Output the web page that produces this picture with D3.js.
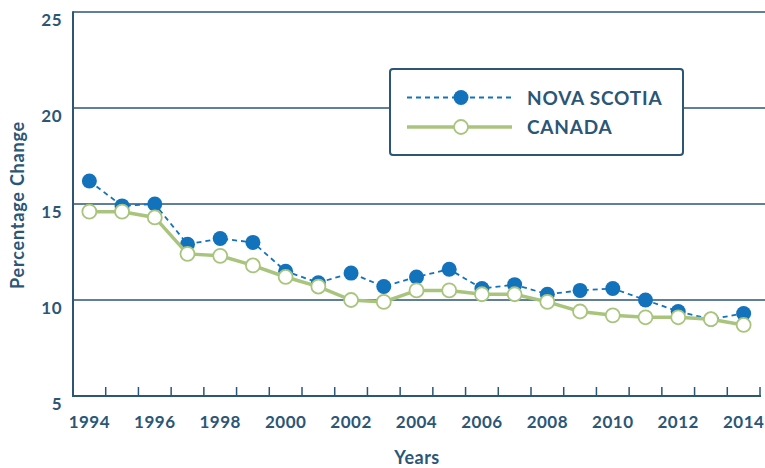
<!DOCTYPE html>
<html>
<head>
<meta charset="utf-8">
<script src="https://cdn.jsdelivr.net/npm/d3@7"></script>
<style>
  body { margin: 0; background: #fff; }
  text { font-family: Lato, "Open Sans", sans-serif; font-weight: 700; fill: #2b5676; }
</style>
</head>
<body>
<svg id="chart" width="765" height="468"></svg>
<script>
var years = d3.range(1994, 2015);
var novaScotia = [16.2, 14.9, 15.0, 12.9, 13.2, 13.0, 11.5, 10.9, 11.4, 10.7, 11.2,
                  11.6, 10.6, 10.8, 10.3, 10.5, 10.6, 10.0, 9.4, 9.0, 9.3];
var canada = [14.6, 14.6, 14.3, 12.4, 12.3, 11.8, 11.2, 10.7, 10.0, 9.9, 10.5,
              10.5, 10.3, 10.3, 9.9, 9.4, 9.2, 9.1, 9.1, 9.0, 8.7];
var yTicks = [5, 10, 15, 20, 25];
var xLabels = [1994, 1996, 1998, 2000, 2002, 2004, 2006, 2008, 2010, 2012, 2014];

var ink = "#2b5676", blue = "#1272bb", green = "#a9c57d";

var svg = d3.select("#chart"),
    plotLeft = 73, plotRight = 760, plotTop = 12, plotBottom = 396;

var x = d3.scaleBand().domain(years).range([plotLeft, plotRight]);
var y = d3.scaleLinear().domain([5, 25]).range([plotBottom, plotTop]);
var cx = function (d, i) { return x(years[i]) + x.bandwidth() / 2; };

// gridlines
svg.append("g").selectAll("line")
    .data(yTicks.filter(function (t) { return t > 5; }))
    .enter().append("line")
    .attr("x1", plotLeft).attr("x2", 765)
    .attr("y1", function (d) { return y(d); })
    .attr("y2", function (d) { return y(d); })
    .attr("stroke", ink).attr("stroke-width", 1.5);

// y labels
svg.append("g").selectAll("text")
    .data(yTicks)
    .enter().append("text")
    .attr("x", 62)
    .attr("y", function (d) { return y(d) + 8; })
    .attr("dy", "0.35em")
    .attr("text-anchor", "end")
    .attr("font-size", 17)
    .attr("letter-spacing", 0.5)
    .text(function (d) { return d; });

// axes lines
svg.append("line").attr("x1", plotLeft).attr("x2", plotLeft)
    .attr("y1", plotTop - 0.75).attr("y2", plotBottom + 1)
    .attr("stroke", ink).attr("stroke-width", 2);
svg.append("line").attr("x1", plotLeft).attr("x2", plotRight + 1)
    .attr("y1", plotBottom).attr("y2", plotBottom)
    .attr("stroke", ink).attr("stroke-width", 2);

// x ticks at band edges
svg.append("g").selectAll("line")
    .data(years)
    .enter().append("line")
    .attr("x1", function (d) { return x(d) + x.bandwidth(); })
    .attr("x2", function (d) { return x(d) + x.bandwidth(); })
    .attr("y1", plotBottom - 9).attr("y2", plotBottom)
    .attr("stroke", ink).attr("stroke-width", 1.5);

svg.append("g").selectAll("text")
    .data(xLabels)
    .enter().append("text")
    .attr("x", function (d) { return x(d) + x.bandwidth() / 2; })
    .attr("y", 422)
    .attr("dy", "0.35em")
    .attr("text-anchor", "middle")
    .attr("font-size", 17)
    .attr("letter-spacing", 0.5)
    .text(function (d) { return d; });

// axis titles
svg.append("text").attr("x", 417).attr("y", 458).attr("dy", "0.35em")
    .attr("text-anchor", "middle").attr("font-size", 18).attr("letter-spacing", 0.5)
    .text("Years");
svg.append("text")
    .attr("transform", "translate(18,205) rotate(-90)")
    .attr("dy", "0.35em").attr("text-anchor", "middle").attr("font-size", 18)
    .attr("letter-spacing", 0.8)
    .text("Percentage Change");

// series
var line = d3.line().x(cx).y(function (d) { return y(d); });

svg.append("path").datum(novaScotia).attr("d", line)
    .attr("fill", "none").attr("stroke", blue).attr("stroke-width", 1.8)
    .attr("stroke-dasharray", "5,4");
svg.append("g").selectAll("circle")
    .data(novaScotia).enter().append("circle")
    .attr("cx", cx).attr("cy", function (d) { return y(d); })
    .attr("r", 7.5).attr("fill", blue);

svg.append("path").datum(canada).attr("d", line)
    .attr("fill", "none").attr("stroke", green).attr("stroke-width", 3.5);
svg.append("g").selectAll("circle")
    .data(canada).enter().append("circle")
    .attr("cx", cx).attr("cy", function (d) { return y(d); })
    .attr("r", 7).attr("fill", "#fff").attr("stroke", green).attr("stroke-width", 1.8);

// legend
var lg = svg.append("g");
lg.append("rect").attr("x", 390).attr("y", 69).attr("width", 293).attr("height", 86)
    .attr("rx", 3).attr("fill", "#fff").attr("stroke", ink).attr("stroke-width", 2);
lg.append("line").attr("x1", 407).attr("x2", 512).attr("y1", 97.5).attr("y2", 97.5)
    .attr("stroke", blue).attr("stroke-width", 1.8).attr("stroke-dasharray", "5,4");
lg.append("circle").attr("cx", 461).attr("cy", 97.5).attr("r", 7.5).attr("fill", blue);
lg.append("line").attr("x1", 407).attr("x2", 512).attr("y1", 127).attr("y2", 127)
    .attr("stroke", green).attr("stroke-width", 3.5);
lg.append("circle").attr("cx", 461).attr("cy", 127).attr("r", 7)
    .attr("fill", "#fff").attr("stroke", green).attr("stroke-width", 1.8);
lg.append("text").attr("x", 527).attr("y", 98).attr("dy", "0.35em")
    .attr("font-size", 19).attr("letter-spacing", 0.8).text("NOVA SCOTIA");
lg.append("text").attr("x", 527).attr("y", 127).attr("dy", "0.35em")
    .attr("font-size", 19).attr("letter-spacing", 0.8).text("CANADA");
</script>
</body>
</html>
